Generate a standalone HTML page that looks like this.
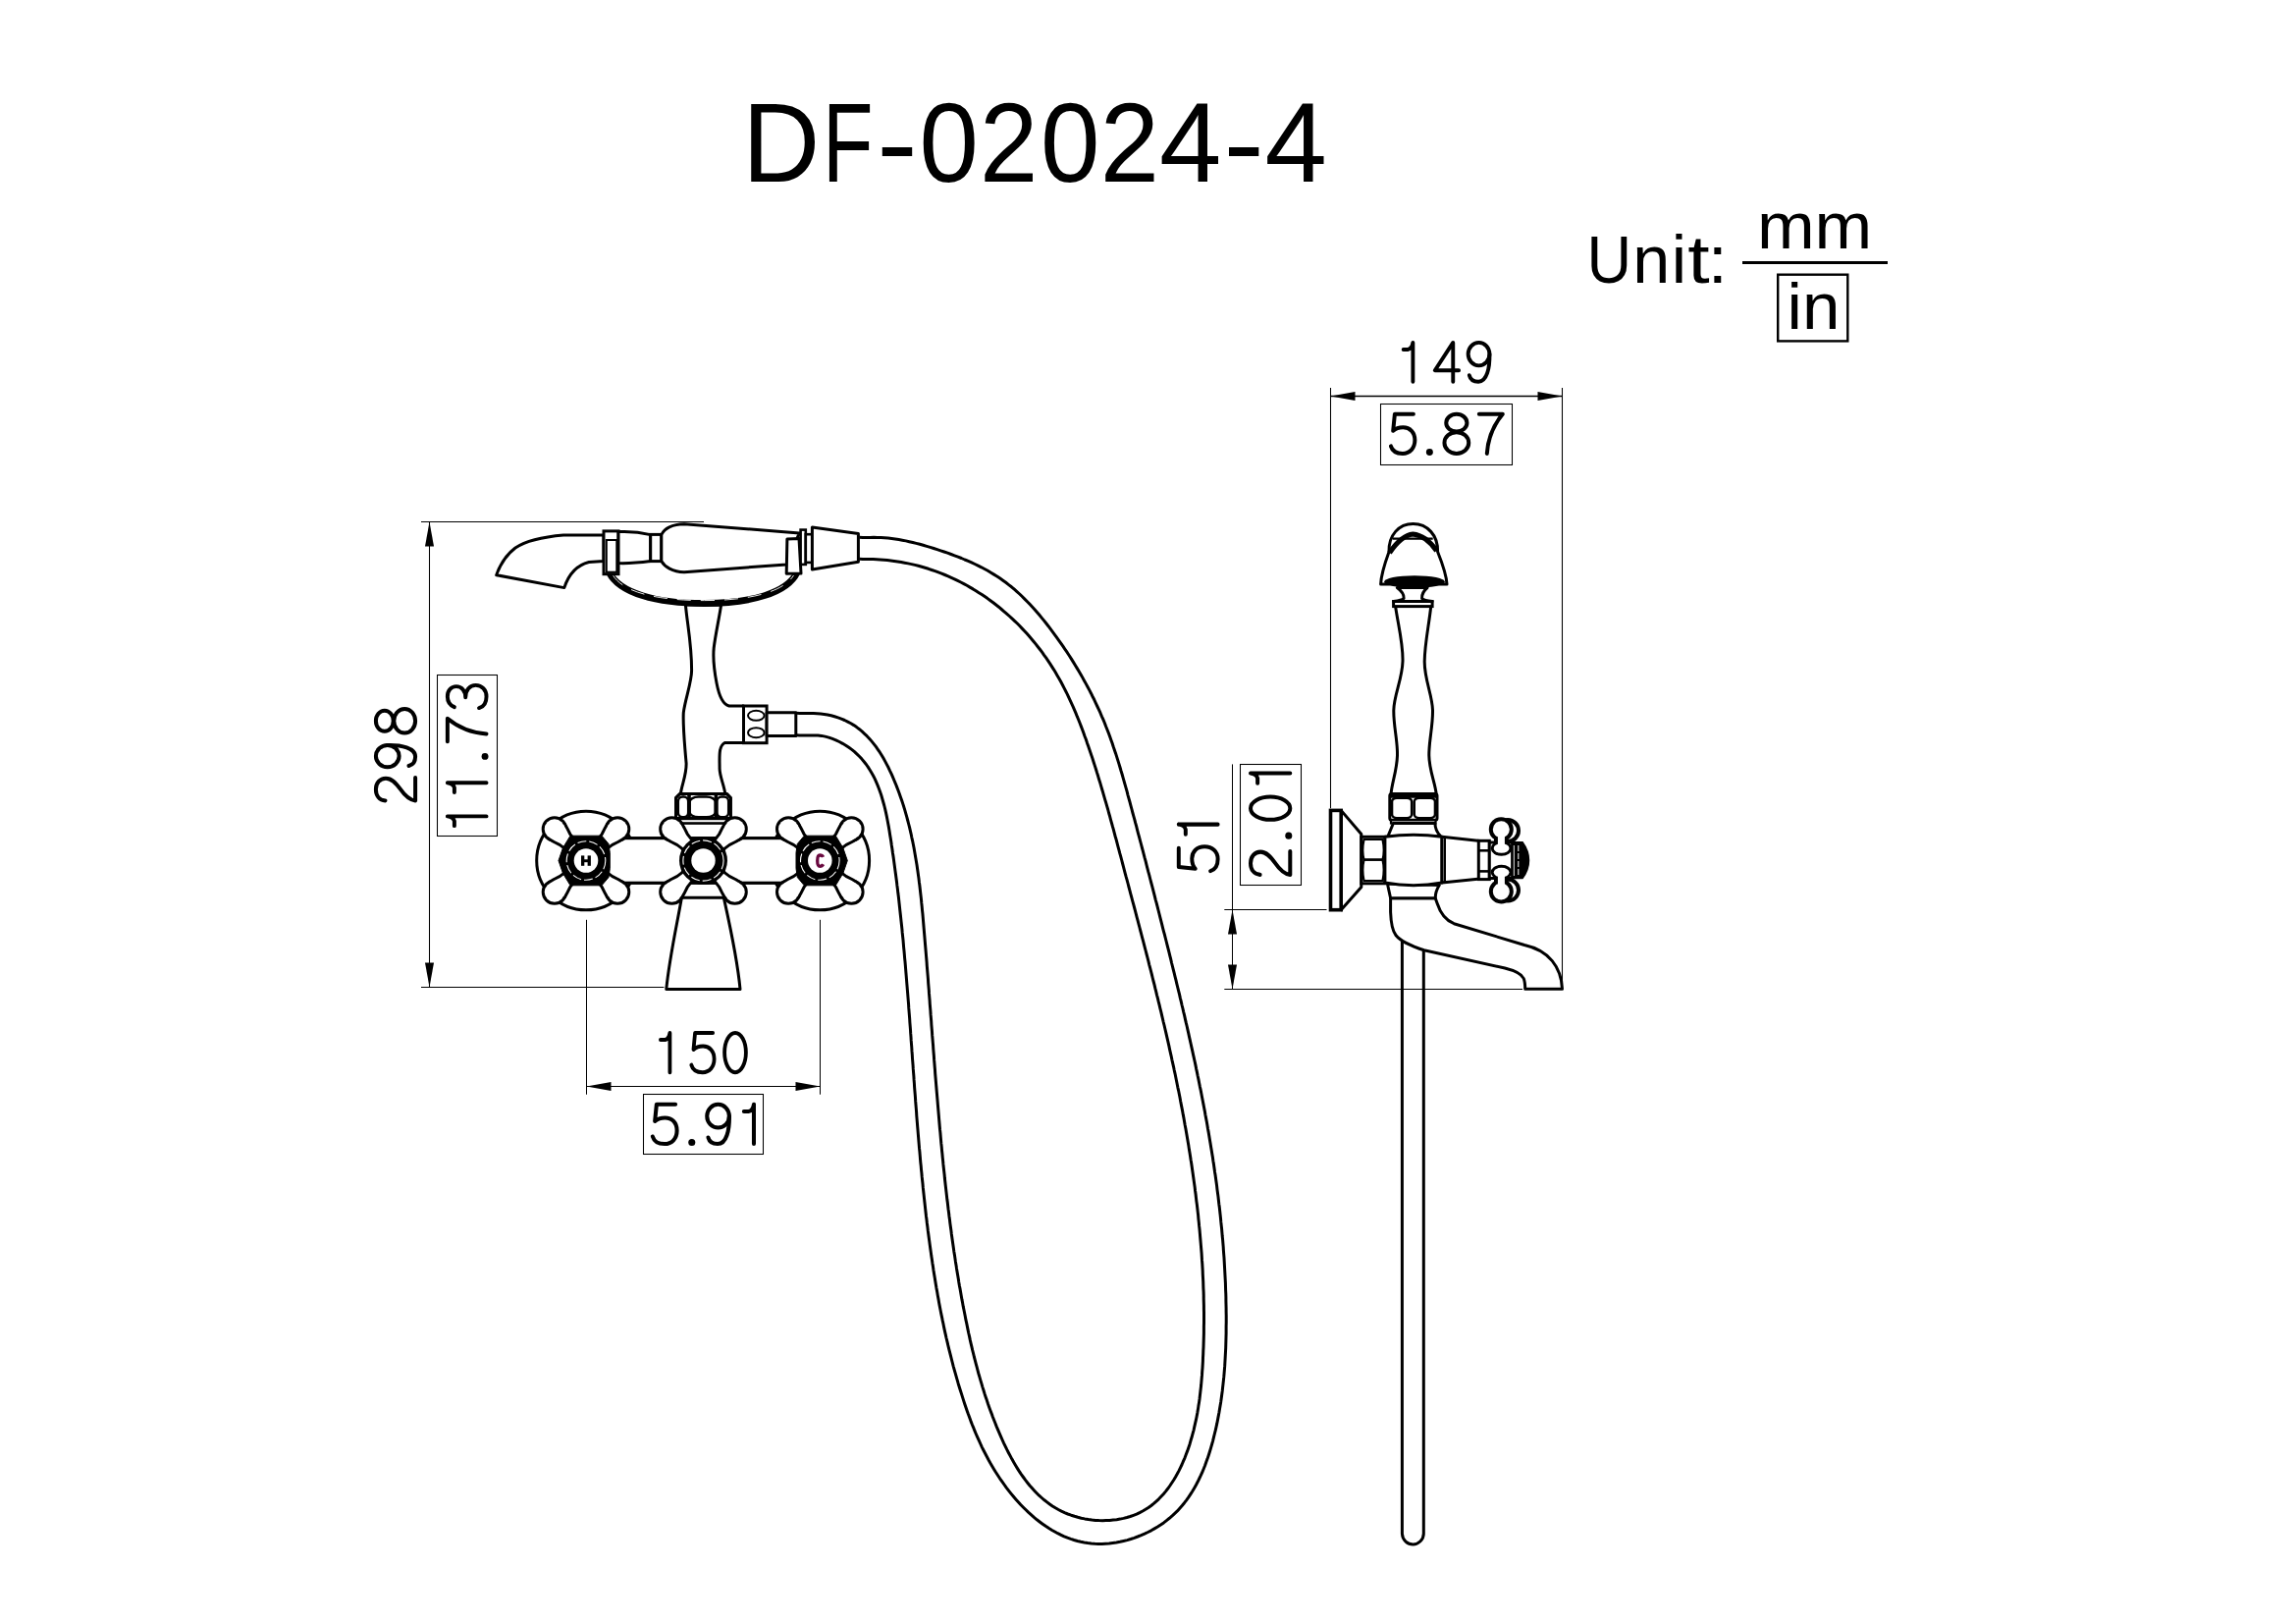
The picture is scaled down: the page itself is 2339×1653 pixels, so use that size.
<!DOCTYPE html>
<html><head><meta charset="utf-8"><title>DF-02024-4</title><style>html,body{margin:0;padding:0;background:#fff;width:2339px;height:1653px;overflow:hidden;font-family:"Liberation Sans",sans-serif}</style></head><body>
<svg width="2339" height="1653" viewBox="0 0 2339 1653" style="display:block">
<rect width="2339" height="1653" fill="#fff"/>
<text transform="translate(756.13,184.8) scale(0.9530,1)" font-family="Liberation Sans, sans-serif" font-size="114.8" fill="#000">D</text>
<text transform="translate(837.89,184.8) scale(0.7343,1)" font-family="Liberation Sans, sans-serif" font-size="114.8" fill="#000">F</text>
<text transform="translate(893.27,184.8) scale(1.0847,1)" font-family="Liberation Sans, sans-serif" font-size="114.8" fill="#000">&#45;</text>
<text transform="translate(936.46,184.8) scale(0.9457,1)" font-family="Liberation Sans, sans-serif" font-size="114.8" fill="#000">0</text>
<text transform="translate(998.03,184.8) scale(0.9293,1)" font-family="Liberation Sans, sans-serif" font-size="114.8" fill="#000">2</text>
<text transform="translate(1059.95,184.8) scale(0.9476,1)" font-family="Liberation Sans, sans-serif" font-size="114.8" fill="#000">0</text>
<text transform="translate(1120.86,184.8) scale(0.9427,1)" font-family="Liberation Sans, sans-serif" font-size="114.8" fill="#000">2</text>
<text transform="translate(1181.09,184.8) scale(0.9922,1)" font-family="Liberation Sans, sans-serif" font-size="114.8" fill="#000">4</text>
<text transform="translate(1246.39,184.8) scale(1.0811,1)" font-family="Liberation Sans, sans-serif" font-size="114.8" fill="#000">&#45;</text>
<text transform="translate(1288.39,184.8) scale(0.9922,1)" font-family="Liberation Sans, sans-serif" font-size="114.8" fill="#000">4</text>
<text transform="translate(1616.42,288) scale(0.9162,1)" font-family="Liberation Sans, sans-serif" font-size="69" fill="#000">U</text>
<text transform="translate(1663.27,288) scale(0.9894,1)" font-family="Liberation Sans, sans-serif" font-size="69" fill="#000">n</text>
<text transform="translate(1702.86,288) scale(1.0059,1)" font-family="Liberation Sans, sans-serif" font-size="69" fill="#000">i</text>
<text transform="translate(1719.18,288) scale(1.1691,1)" font-family="Liberation Sans, sans-serif" font-size="69" fill="#000">t</text>
<text transform="translate(1739.68,288) scale(1.0503,1)" font-family="Liberation Sans, sans-serif" font-size="69" fill="#000">:</text>
<text x="1789.9" y="253" font-family="Liberation Sans, sans-serif" font-size="67" textLength="117.4" lengthAdjust="spacingAndGlyphs" fill="#000">mm</text>
<line x1="1775" y1="267.5" x2="1923" y2="267.5" stroke="#000" stroke-width="3.2"/>
<rect x="1811.2" y="279.7" width="71.1" height="67.7" rx="0" fill="none" stroke="#000" stroke-width="2.4"/>
<text x="1820.6" y="335" font-family="Liberation Sans, sans-serif" font-size="67" textLength="53.8" lengthAdjust="spacingAndGlyphs" fill="#000">in</text>
<line x1="429" y1="531.5" x2="717" y2="531.5" stroke="#000" stroke-width="1.05"/>
<line x1="429" y1="1005.5" x2="676.4" y2="1005.5" stroke="#000" stroke-width="1.05"/>
<line x1="437.5" y1="531.5" x2="437.5" y2="1005.5" stroke="#000" stroke-width="1.05"/>
<path d="M 437.5,531.5 L 442,556.5 L 433,556.5 Z" fill="#000"/>
<path d="M 437.5,1005.5 L 433,980.5 L 442,980.5 Z" fill="#000"/>
<g transform="translate(381,821.38) rotate(-90) scale(0.9959,1.0000)" fill="none" stroke="#000" stroke-width="4" stroke-linecap="round" stroke-linejoin="round"><g transform="translate(0,0)"><path d="M 6,11.5 C 6.5,5.5 11,1.9 17.5,1.9 C 24,1.9 28.8,6 28.8,12 C 28.8,18 24.5,22 17.5,27 C 11,31.5 6.5,37 5.8,42.1 L 29.5,42.1"/></g><g transform="translate(35,0)"><ellipse cx="16.5" cy="13.75" rx="11.2" ry="11.85"/><path d="M 27.7,13.75 C 28,28 25,42.1 16,42.1 C 11,42.1 7.5,39.5 6.5,35.5"/></g><g transform="translate(70,0)"><ellipse cx="17.5" cy="10.8" rx="10.6" ry="8.9"/><ellipse cx="17.5" cy="31.2" rx="12.4" ry="10.9"/></g></g>
<rect x="445.5" y="687.5" width="61" height="164" rx="0" fill="none" stroke="#000" stroke-width="1.05"/>
<g transform="translate(454,848.47) rotate(-90) scale(0.9761,0.9864)" fill="none" stroke="#000" stroke-width="4" stroke-linecap="round" stroke-linejoin="round"><g transform="translate(0,0)"><path d="M 17.5,42.1 L 17.5,1.9 M 7.5,9 L 12.5,9 Q 16.5,8 17.5,1.9"/></g><g transform="translate(35,0)"><path d="M 17.5,42.1 L 17.5,1.9 M 7.5,9 L 12.5,9 Q 16.5,8 17.5,1.9"/></g><g transform="translate(70,0)"><circle cx="10" cy="40.6" r="3.5" fill="#000" stroke="none"/></g><g transform="translate(90,0)"><path d="M 5.5,1.9 L 29.5,1.9 C 21,12 14.5,26 13.5,42.1"/></g><g transform="translate(125,0)"><path d="M 6.5,9 C 8.5,4.5 12.5,1.9 17.5,1.9 C 23.5,1.9 28,5.5 28,11 C 28,16.5 23.5,20.5 16.5,20.5 C 24.5,20.5 29.3,25 29.3,31 C 29.3,37.5 24.5,42.1 17.5,42.1 C 11.5,42.1 7,39.5 5.5,34.5"/></g></g>
<line x1="597.5" y1="936.8" x2="597.5" y2="1114.7" stroke="#000" stroke-width="1.05"/>
<line x1="835.5" y1="936.8" x2="835.5" y2="1114.7" stroke="#000" stroke-width="1.05"/>
<line x1="597.5" y1="1106.5" x2="835.5" y2="1106.5" stroke="#000" stroke-width="1.05"/>
<path d="M 597.5,1106.5 L 622.5,1102 L 622.5,1111 Z" fill="#000"/>
<path d="M 835.5,1106.5 L 810.5,1111 L 810.5,1102 Z" fill="#000"/>
<g transform="translate(665.77,1050) scale(0.9512,1.0023)" fill="none" stroke="#000" stroke-width="4" stroke-linecap="round" stroke-linejoin="round"><g transform="translate(0,0)"><path d="M 17.5,42.1 L 17.5,1.9 M 7.5,9 L 12.5,9 Q 16.5,8 17.5,1.9"/></g><g transform="translate(35,0)"><path d="M 28.5,1.9 L 9.5,1.9 L 7.8,19 C 10.5,16.5 14,15.5 18,15.5 C 25,15.5 30,20.5 30,28.5 C 30,36.5 25,42.1 17.5,42.1 C 11.5,42.1 7,39.5 5.5,34.5"/></g><g transform="translate(70,0)"><ellipse cx="17.5" cy="22" rx="11.45" ry="20.1"/></g></g>
<rect x="655.5" y="1114.5" width="122" height="61" rx="0" fill="none" stroke="#000" stroke-width="1.05"/>
<g transform="translate(659.26,1122.9) scale(1.0113,1.0023)" fill="none" stroke="#000" stroke-width="4" stroke-linecap="round" stroke-linejoin="round"><g transform="translate(0,0)"><path d="M 28.5,1.9 L 9.5,1.9 L 7.8,19 C 10.5,16.5 14,15.5 18,15.5 C 25,15.5 30,20.5 30,28.5 C 30,36.5 25,42.1 17.5,42.1 C 11.5,42.1 7,39.5 5.5,34.5"/></g><g transform="translate(35,0)"><circle cx="10" cy="40.6" r="3.5" fill="#000" stroke="none"/></g><g transform="translate(55,0)"><ellipse cx="16.5" cy="13.75" rx="11.2" ry="11.85"/><path d="M 27.7,13.75 C 28,28 25,42.1 16,42.1 C 11,42.1 7.5,39.5 6.5,35.5"/></g><g transform="translate(90,0)"><path d="M 17.5,42.1 L 17.5,1.9 M 7.5,9 L 12.5,9 Q 16.5,8 17.5,1.9"/></g></g>
<line x1="1355.5" y1="395" x2="1355.5" y2="823.3" stroke="#000" stroke-width="1.05"/>
<line x1="1591.5" y1="395" x2="1591.5" y2="1006.8" stroke="#000" stroke-width="1.05"/>
<line x1="1355.5" y1="403.5" x2="1591.5" y2="403.5" stroke="#000" stroke-width="1.6"/>
<path d="M 1355.5,403.5 L 1380.5,399 L 1380.5,408 Z" fill="#000"/>
<path d="M 1591.5,403.5 L 1566.5,408 L 1566.5,399 Z" fill="#000"/>
<g transform="translate(1422.35,347) scale(0.9734,0.9909)" fill="none" stroke="#000" stroke-width="4" stroke-linecap="round" stroke-linejoin="round"><g transform="translate(0,0)"><path d="M 17.5,42.1 L 17.5,1.9 M 7.5,9 L 12.5,9 Q 16.5,8 17.5,1.9"/></g><g transform="translate(35,0)"><path d="M 24.5,42.1 L 24.5,1.9 L 5.5,30.5 L 30.5,30.5"/></g><g transform="translate(70,0)"><ellipse cx="16.5" cy="13.75" rx="11.2" ry="11.85"/><path d="M 27.7,13.75 C 28,28 25,42.1 16,42.1 C 11,42.1 7.5,39.5 6.5,35.5"/></g></g>
<rect x="1406.5" y="411.5" width="134" height="62" rx="0" fill="none" stroke="#000" stroke-width="1.05"/>
<g transform="translate(1411.4,419.9) scale(0.9992,0.9977)" fill="none" stroke="#000" stroke-width="4" stroke-linecap="round" stroke-linejoin="round"><g transform="translate(0,0)"><path d="M 28.5,1.9 L 9.5,1.9 L 7.8,19 C 10.5,16.5 14,15.5 18,15.5 C 25,15.5 30,20.5 30,28.5 C 30,36.5 25,42.1 17.5,42.1 C 11.5,42.1 7,39.5 5.5,34.5"/></g><g transform="translate(35,0)"><circle cx="10" cy="40.6" r="3.5" fill="#000" stroke="none"/></g><g transform="translate(55,0)"><ellipse cx="17.5" cy="10.8" rx="10.6" ry="8.9"/><ellipse cx="17.5" cy="31.2" rx="12.4" ry="10.9"/></g><g transform="translate(90,0)"><path d="M 5.5,1.9 L 29.5,1.9 C 21,12 14.5,26 13.5,42.1"/></g></g>
<line x1="1247.3" y1="926.5" x2="1351.5" y2="926.5" stroke="#000" stroke-width="1.05"/>
<line x1="1247.3" y1="1007.5" x2="1551" y2="1007.5" stroke="#000" stroke-width="1.05"/>
<line x1="1255.5" y1="778.4" x2="1255.5" y2="1007.5" stroke="#000" stroke-width="1.05"/>
<path d="M 1255.5,926.5 L 1260,951.5 L 1251,951.5 Z" fill="#000"/>
<path d="M 1255.5,1007.5 L 1251,982.5 L 1260,982.5 Z" fill="#000"/>
<g transform="translate(1198.9,892.64) rotate(-90) scale(1.0098,0.9909)" fill="none" stroke="#000" stroke-width="4" stroke-linecap="round" stroke-linejoin="round"><g transform="translate(0,0)"><path d="M 28.5,1.9 L 9.5,1.9 L 7.8,19 C 10.5,16.5 14,15.5 18,15.5 C 25,15.5 30,20.5 30,28.5 C 30,36.5 25,42.1 17.5,42.1 C 11.5,42.1 7,39.5 5.5,34.5"/></g><g transform="translate(35,0)"><path d="M 17.5,42.1 L 17.5,1.9 M 7.5,9 L 12.5,9 Q 16.5,8 17.5,1.9"/></g></g>
<rect x="1263.5" y="778.5" width="62" height="123" rx="0" fill="none" stroke="#000" stroke-width="1.05"/>
<g transform="translate(1272.1,896.97) rotate(-90) scale(1.0180,1.0023)" fill="none" stroke="#000" stroke-width="4" stroke-linecap="round" stroke-linejoin="round"><g transform="translate(0,0)"><path d="M 6,11.5 C 6.5,5.5 11,1.9 17.5,1.9 C 24,1.9 28.8,6 28.8,12 C 28.8,18 24.5,22 17.5,27 C 11,31.5 6.5,37 5.8,42.1 L 29.5,42.1"/></g><g transform="translate(35,0)"><circle cx="10" cy="40.6" r="3.5" fill="#000" stroke="none"/></g><g transform="translate(55,0)"><ellipse cx="17.5" cy="22" rx="11.45" ry="20.1"/></g><g transform="translate(90,0)"><path d="M 17.5,42.1 L 17.5,1.9 M 7.5,9 L 12.5,9 Q 16.5,8 17.5,1.9"/></g></g>
<path d="M 811.1,726.3 L 814.7,726.4 L 818.2,726.4 L 821.8,726.4 L 825.3,726.4 L 828.9,726.5 L 832.4,726.7 L 836.0,727.0 L 839.6,727.4 L 843.1,728.0 L 846.7,728.8 L 850.2,729.8 L 853.7,730.9 L 857.1,732.1 L 860.4,733.5 L 863.6,735.1 L 866.8,736.8 L 869.8,738.6 L 872.7,740.6 L 875.5,742.7 L 878.1,744.9 L 880.7,747.3 L 883.2,749.7 L 885.6,752.2 L 887.9,754.9 L 890.1,757.6 L 892.3,760.4 L 894.3,763.3 L 896.3,766.2 L 898.2,769.2 L 900.0,772.3 L 901.7,775.4 L 903.4,778.6 L 905.1,781.8 L 906.6,785.1 L 908.2,788.4 L 909.6,791.6 L 911.0,795.0 L 912.4,798.3 L 913.7,801.6 L 915.0,805.0 L 916.2,808.3 L 917.4,811.7 L 918.6,815.1 L 919.7,818.4 L 920.8,821.8 L 921.8,825.2 L 922.8,828.7 L 923.8,832.1 L 924.7,835.5 L 925.6,839.0 L 926.5,842.4 L 927.3,845.9 L 928.1,849.3 L 928.8,852.8 L 929.6,856.3 L 930.3,859.8 L 931.0,863.2 L 931.6,866.7 L 932.2,870.2 L 932.8,873.8 L 933.4,877.3 L 934.0,880.8 L 934.5,884.3 L 935.0,887.8 L 935.5,891.4 L 936.0,894.9 L 936.4,898.4 L 936.9,902.0 L 937.3,905.5 L 937.7,909.1 L 938.1,912.6 L 938.5,916.2 L 938.8,919.7 L 939.2,923.3 L 939.5,926.8 L 939.9,930.4 L 940.2,933.9 L 940.5,937.5 L 940.8,941.0 L 941.1,944.6 L 941.4,948.1 L 941.7,951.7 L 942.0,955.2 L 942.3,958.8 L 942.6,962.3 L 942.9,965.9 L 943.2,969.4 L 943.5,973.0 L 943.8,976.5 L 944.1,980.1 L 944.3,983.6 L 944.6,987.2 L 944.9,990.7 L 945.2,994.2 L 945.5,997.8 L 945.7,1001.3 L 946.0,1004.9 L 946.3,1008.4 L 946.5,1011.9 L 946.8,1015.5 L 947.1,1019.0 L 947.3,1022.6 L 947.6,1026.1 L 947.9,1029.6 L 948.1,1033.2 L 948.4,1036.7 L 948.7,1040.2 L 948.9,1043.8 L 949.2,1047.3 L 949.5,1050.9 L 949.7,1054.4 L 950.0,1057.9 L 950.3,1061.5 L 950.6,1065.0 L 950.8,1068.5 L 951.1,1072.1 L 951.4,1075.6 L 951.6,1079.2 L 951.9,1082.7 L 952.2,1086.3 L 952.5,1089.8 L 952.7,1093.3 L 953.0,1096.9 L 953.3,1100.4 L 953.6,1104.0 L 953.9,1107.5 L 954.2,1111.1 L 954.5,1114.6 L 954.8,1118.2 L 955.1,1121.7 L 955.4,1125.3 L 955.7,1128.8 L 956.0,1132.4 L 956.3,1135.9 L 956.6,1139.5 L 956.9,1143.0 L 957.2,1146.6 L 957.5,1150.2 L 957.9,1153.7 L 958.2,1157.3 L 958.5,1160.8 L 958.8,1164.4 L 959.2,1167.9 L 959.5,1171.5 L 959.9,1175.1 L 960.2,1178.6 L 960.6,1182.2 L 960.9,1185.7 L 961.3,1189.3 L 961.7,1192.9 L 962.1,1196.4 L 962.4,1200.0 L 962.8,1203.5 L 963.2,1207.1 L 963.6,1210.6 L 964.0,1214.2 L 964.4,1217.7 L 964.8,1221.3 L 965.3,1224.8 L 965.7,1228.4 L 966.1,1231.9 L 966.6,1235.5 L 967.0,1239.0 L 967.5,1242.6 L 967.9,1246.1 L 968.4,1249.7 L 968.9,1253.2 L 969.3,1256.7 L 969.8,1260.3 L 970.3,1263.8 L 970.8,1267.3 L 971.3,1270.8 L 971.8,1274.4 L 972.4,1277.9 L 972.9,1281.4 L 973.4,1284.9 L 974.0,1288.4 L 974.5,1291.9 L 975.1,1295.5 L 975.7,1299.0 L 976.3,1302.5 L 976.8,1306.0 L 977.4,1309.5 L 978.1,1312.9 L 978.7,1316.4 L 979.3,1319.9 L 979.9,1323.4 L 980.6,1326.9 L 981.2,1330.4 L 981.9,1333.8 L 982.6,1337.3 L 983.3,1340.8 L 983.9,1344.2 L 984.7,1347.7 L 985.4,1351.1 L 986.1,1354.6 L 986.8,1358.0 L 987.6,1361.4 L 988.3,1364.9 L 989.1,1368.3 L 989.9,1371.7 L 990.7,1375.2 L 991.6,1378.6 L 992.4,1382.0 L 993.3,1385.4 L 994.2,1388.8 L 995.1,1392.2 L 996.0,1395.6 L 996.9,1399.0 L 997.9,1402.4 L 998.9,1405.8 L 999.9,1409.2 L 1000.9,1412.6 L 1002.0,1416.0 L 1003.0,1419.4 L 1004.1,1422.7 L 1005.3,1426.1 L 1006.4,1429.5 L 1007.6,1432.9 L 1008.8,1436.2 L 1010.1,1439.6 L 1011.3,1443.0 L 1012.6,1446.3 L 1014.0,1449.7 L 1015.3,1453.1 L 1016.7,1456.4 L 1018.2,1459.8 L 1019.6,1463.1 L 1021.1,1466.5 L 1022.6,1469.8 L 1024.2,1473.1 L 1025.8,1476.4 L 1027.5,1479.7 L 1029.2,1482.9 L 1030.9,1486.1 L 1032.7,1489.3 L 1034.6,1492.5 L 1036.5,1495.6 L 1038.4,1498.6 L 1040.4,1501.6 L 1042.5,1504.5 L 1044.6,1507.4 L 1046.8,1510.2 L 1049.0,1513.0 L 1051.3,1515.6 L 1053.7,1518.2 L 1056.1,1520.7 L 1058.6,1523.2 L 1061.2,1525.5 L 1063.9,1527.8 L 1066.6,1529.9 L 1069.4,1532.0 L 1072.2,1533.9 L 1075.2,1535.8 L 1078.2,1537.5 L 1081.3,1539.1 L 1084.5,1540.6 L 1087.8,1542.0 L 1091.2,1543.2 L 1094.6,1544.3 L 1098.0,1545.3 L 1101.5,1546.2 L 1105.1,1546.9 L 1108.7,1547.5 L 1112.3,1548.0 L 1115.9,1548.4 L 1119.5,1548.6 L 1123.2,1548.7 L 1126.8,1548.6 L 1130.4,1548.5 L 1134.0,1548.1 L 1137.6,1547.7 L 1141.1,1547.1 L 1144.6,1546.4 L 1148.0,1545.5 L 1151.4,1544.5 L 1154.7,1543.3 L 1157.9,1542.1 L 1161.0,1540.6 L 1164.1,1539.0 L 1167.0,1537.3 L 1169.9,1535.5 L 1172.7,1533.5 L 1175.3,1531.4 L 1177.9,1529.1 L 1180.4,1526.8 L 1182.8,1524.3 L 1185.2,1521.7 L 1187.4,1519.1 L 1189.6,1516.3 L 1191.6,1513.5 L 1193.6,1510.5 L 1195.6,1507.5 L 1197.4,1504.5 L 1199.2,1501.3 L 1200.9,1498.1 L 1202.5,1494.8 L 1204.1,1491.5 L 1205.5,1488.2 L 1207.0,1484.8 L 1208.3,1481.3 L 1209.6,1477.9 L 1210.8,1474.4 L 1212.0,1470.9 L 1213.0,1467.3 L 1214.1,1463.8 L 1215.0,1460.3 L 1216.0,1456.8 L 1216.8,1453.2 L 1217.6,1449.7 L 1218.4,1446.2 L 1219.1,1442.7 L 1219.8,1439.1 L 1220.4,1435.6 L 1220.9,1432.1 L 1221.5,1428.6 L 1222.0,1425.0 L 1222.4,1421.5 L 1222.8,1418.0 L 1223.2,1414.5 L 1223.6,1411.0 L 1223.9,1407.4 L 1224.2,1403.9 L 1224.5,1400.4 L 1224.7,1396.9 L 1225.0,1393.3 L 1225.2,1389.8 L 1225.4,1386.3 L 1225.5,1382.8 L 1225.7,1379.2 L 1225.8,1375.7 L 1226.0,1372.2 L 1226.1,1368.6 L 1226.2,1365.1 L 1226.3,1361.6 L 1226.4,1358.0 L 1226.4,1354.5 L 1226.4,1351.0 L 1226.5,1347.4 L 1226.5,1343.9 L 1226.5,1340.4 L 1226.5,1336.8 L 1226.4,1333.3 L 1226.4,1329.8 L 1226.3,1326.2 L 1226.2,1322.7 L 1226.2,1319.1 L 1226.1,1315.6 L 1225.9,1312.1 L 1225.8,1308.5 L 1225.7,1305.0 L 1225.5,1301.4 L 1225.3,1297.9 L 1225.2,1294.4 L 1225.0,1290.8 L 1224.8,1287.3 L 1224.5,1283.7 L 1224.3,1280.2 L 1224.1,1276.7 L 1223.8,1273.1 L 1223.5,1269.6 L 1223.2,1266.0 L 1222.9,1262.5 L 1222.6,1259.0 L 1222.3,1255.4 L 1222.0,1251.9 L 1221.6,1248.4 L 1221.3,1244.8 L 1220.9,1241.3 L 1220.6,1237.7 L 1220.2,1234.2 L 1219.8,1230.7 L 1219.4,1227.1 L 1218.9,1223.6 L 1218.5,1220.1 L 1218.1,1216.5 L 1217.6,1213.0 L 1217.2,1209.4 L 1216.7,1205.9 L 1216.2,1202.4 L 1215.7,1198.8 L 1215.2,1195.3 L 1214.7,1191.8 L 1214.2,1188.3 L 1213.7,1184.7 L 1213.1,1181.2 L 1212.6,1177.7 L 1212.0,1174.1 L 1211.4,1170.6 L 1210.9,1167.1 L 1210.3,1163.6 L 1209.7,1160.0 L 1209.1,1156.5 L 1208.5,1153.0 L 1207.9,1149.5 L 1207.2,1146.0 L 1206.6,1142.4 L 1206.0,1138.9 L 1205.3,1135.4 L 1204.7,1131.9 L 1204.0,1128.4 L 1203.3,1124.9 L 1202.6,1121.3 L 1202.0,1117.8 L 1201.3,1114.3 L 1200.6,1110.8 L 1199.8,1107.3 L 1199.1,1103.8 L 1198.4,1100.3 L 1197.7,1096.8 L 1197.0,1093.3 L 1196.2,1089.8 L 1195.5,1086.3 L 1194.7,1082.8 L 1193.9,1079.3 L 1193.2,1075.8 L 1192.4,1072.3 L 1191.6,1068.8 L 1190.9,1065.4 L 1190.1,1061.9 L 1189.3,1058.4 L 1188.5,1054.9 L 1187.7,1051.4 L 1186.9,1048.0 L 1186.1,1044.5 L 1185.2,1041.0 L 1184.4,1037.5 L 1183.6,1034.1 L 1182.8,1030.6 L 1181.9,1027.1 L 1181.1,1023.7 L 1180.2,1020.2 L 1179.4,1016.7 L 1178.5,1013.3 L 1177.7,1009.8 L 1176.8,1006.4 L 1176.0,1002.9 L 1175.1,999.5 L 1174.2,996.0 L 1173.4,992.6 L 1172.5,989.1 L 1171.6,985.7 L 1170.7,982.3 L 1169.9,978.8 L 1169.0,975.4 L 1168.1,972.0 L 1167.2,968.5 L 1166.3,965.1 L 1165.4,961.7 L 1164.5,958.2 L 1163.6,954.8 L 1162.7,951.4 L 1161.8,948.0 L 1160.9,944.5 L 1160.0,941.1 L 1159.1,937.7 L 1158.2,934.3 L 1157.3,930.8 L 1156.4,927.4 L 1155.5,924.0 L 1154.6,920.6 L 1153.6,917.1 L 1152.7,913.7 L 1151.8,910.3 L 1150.9,906.9 L 1150.0,903.5 L 1149.1,900.0 L 1148.2,896.6 L 1147.2,893.2 L 1146.3,889.8 L 1145.4,886.3 L 1144.5,882.9 L 1143.6,879.5 L 1142.7,876.0 L 1141.8,872.6 L 1140.8,869.2 L 1139.9,865.7 L 1139.0,862.3 L 1138.1,858.9 L 1137.2,855.4 L 1136.2,852.0 L 1135.3,848.6 L 1134.4,845.1 L 1133.4,841.7 L 1132.5,838.3 L 1131.5,834.8 L 1130.6,831.4 L 1129.6,828.0 L 1128.7,824.5 L 1127.7,821.1 L 1126.7,817.7 L 1125.7,814.3 L 1124.7,810.8 L 1123.7,807.4 L 1122.7,804.0 L 1121.7,800.6 L 1120.7,797.2 L 1119.6,793.7 L 1118.6,790.3 L 1117.5,786.9 L 1116.5,783.5 L 1115.4,780.1 L 1114.3,776.7 L 1113.2,773.3 L 1112.1,769.9 L 1110.9,766.5 L 1109.8,763.2 L 1108.6,759.8 L 1107.4,756.4 L 1106.3,753.0 L 1105.0,749.7 L 1103.8,746.3 L 1102.6,743.0 L 1101.3,739.6 L 1100.0,736.3 L 1098.7,733.0 L 1097.3,729.7 L 1096.0,726.4 L 1094.6,723.1 L 1093.2,719.8 L 1091.7,716.6 L 1090.2,713.4 L 1088.7,710.1 L 1087.2,706.9 L 1085.6,703.8 L 1084.0,700.6 L 1082.4,697.5 L 1080.7,694.3 L 1079.0,691.2 L 1077.2,688.2 L 1075.4,685.1 L 1073.6,682.1 L 1071.7,679.1 L 1069.8,676.1 L 1067.8,673.1 L 1065.8,670.2 L 1063.7,667.3 L 1061.7,664.4 L 1059.5,661.5 L 1057.3,658.7 L 1055.1,655.9 L 1052.9,653.2 L 1050.6,650.5 L 1048.3,647.8 L 1045.9,645.1 L 1043.5,642.5 L 1041.0,639.9 L 1038.6,637.3 L 1036.1,634.8 L 1033.5,632.3 L 1030.9,629.9 L 1028.3,627.5 L 1025.6,625.1 L 1022.9,622.8 L 1020.2,620.5 L 1017.5,618.2 L 1014.7,616.0 L 1011.8,613.8 L 1009.0,611.7 L 1006.1,609.6 L 1003.2,607.6 L 1000.2,605.6 L 997.2,603.7 L 994.2,601.8 L 991.2,599.9 L 988.1,598.1 L 985.0,596.3 L 981.9,594.6 L 978.8,593.0 L 975.6,591.4 L 972.4,589.8 L 969.1,588.3 L 965.9,586.9 L 962.6,585.5 L 959.3,584.1 L 956.0,582.9 L 952.6,581.6 L 949.2,580.5 L 945.8,579.3 L 942.4,578.3 L 939.0,577.3 L 935.5,576.3 L 932.0,575.4 L 928.6,574.6 L 925.1,573.9 L 921.5,573.2 L 918.0,572.5 L 914.5,571.9 L 910.9,571.4 L 907.4,570.9 L 903.9,570.5 L 900.3,570.2 L 896.7,569.9 L 893.2,569.7 L 889.6,569.6 L 886.1,569.5 L 882.5,569.4 L 879.0,569.4 L 875.4,569.3" fill="none" stroke="#000" stroke-width="3" stroke-linejoin="round"/>
<path d="M 811.1,748.8 L 814.8,749.0 L 818.5,749.0 L 822.1,748.9 L 825.8,748.9 L 829.5,748.9 L 833.2,749.0 L 836.9,749.4 L 840.6,750.1 L 844.3,751.1 L 848.0,752.4 L 851.6,753.8 L 855.1,755.5 L 858.5,757.3 L 861.7,759.2 L 864.8,761.3 L 867.7,763.4 L 870.5,765.7 L 873.1,768.1 L 875.6,770.5 L 878.0,773.1 L 880.2,775.8 L 882.4,778.5 L 884.4,781.4 L 886.2,784.3 L 888.0,787.3 L 889.7,790.3 L 891.3,793.4 L 892.7,796.6 L 894.1,799.9 L 895.4,803.2 L 896.6,806.6 L 897.8,810.0 L 898.8,813.5 L 899.8,817.0 L 900.8,820.5 L 901.7,824.1 L 902.5,827.7 L 903.3,831.4 L 904.0,835.0 L 904.7,838.7 L 905.4,842.4 L 906.0,846.1 L 906.6,849.9 L 907.2,853.6 L 907.8,857.3 L 908.3,861.0 L 908.9,864.8 L 909.4,868.5 L 910.0,872.2 L 910.5,875.9 L 911.0,879.6 L 911.5,883.4 L 912.0,887.1 L 912.5,890.8 L 913.0,894.5 L 913.5,898.2 L 913.9,901.9 L 914.4,905.6 L 914.8,909.3 L 915.3,913.0 L 915.7,916.7 L 916.1,920.4 L 916.5,924.1 L 916.9,927.8 L 917.3,931.5 L 917.7,935.1 L 918.1,938.8 L 918.5,942.5 L 918.9,946.2 L 919.2,949.9 L 919.6,953.6 L 920.0,957.2 L 920.3,960.9 L 920.6,964.6 L 921.0,968.3 L 921.3,971.9 L 921.6,975.6 L 922.0,979.3 L 922.3,982.9 L 922.6,986.6 L 922.9,990.3 L 923.2,993.9 L 923.5,997.6 L 923.8,1001.3 L 924.1,1004.9 L 924.4,1008.6 L 924.7,1012.2 L 925.0,1015.9 L 925.3,1019.6 L 925.6,1023.2 L 925.8,1026.9 L 926.1,1030.5 L 926.4,1034.2 L 926.7,1037.8 L 926.9,1041.5 L 927.2,1045.1 L 927.5,1048.8 L 927.7,1052.4 L 928.0,1056.1 L 928.2,1059.7 L 928.5,1063.4 L 928.8,1067.0 L 929.0,1070.7 L 929.3,1074.3 L 929.5,1078.0 L 929.8,1081.6 L 930.1,1085.3 L 930.3,1088.9 L 930.6,1092.6 L 930.9,1096.2 L 931.1,1099.9 L 931.4,1103.5 L 931.6,1107.1 L 931.9,1110.8 L 932.2,1114.4 L 932.5,1118.1 L 932.7,1121.7 L 933.0,1125.4 L 933.3,1129.0 L 933.6,1132.7 L 933.8,1136.3 L 934.1,1140.0 L 934.4,1143.6 L 934.7,1147.3 L 935.0,1150.9 L 935.3,1154.6 L 935.6,1158.2 L 935.9,1161.9 L 936.2,1165.5 L 936.5,1169.2 L 936.9,1172.8 L 937.2,1176.5 L 937.5,1180.1 L 937.8,1183.8 L 938.2,1187.4 L 938.5,1191.1 L 938.9,1194.7 L 939.2,1198.4 L 939.6,1202.0 L 940.0,1205.7 L 940.3,1209.4 L 940.7,1213.0 L 941.1,1216.7 L 941.5,1220.3 L 941.9,1224.0 L 942.3,1227.7 L 942.7,1231.3 L 943.1,1235.0 L 943.5,1238.7 L 944.0,1242.3 L 944.4,1246.0 L 944.9,1249.7 L 945.3,1253.4 L 945.8,1257.0 L 946.3,1260.7 L 946.8,1264.4 L 947.3,1268.1 L 947.8,1271.7 L 948.3,1275.4 L 948.8,1279.1 L 949.4,1282.8 L 949.9,1286.4 L 950.5,1290.1 L 951.0,1293.8 L 951.6,1297.4 L 952.2,1301.1 L 952.8,1304.8 L 953.4,1308.4 L 954.0,1312.1 L 954.7,1315.8 L 955.3,1319.4 L 956.0,1323.1 L 956.6,1326.7 L 957.3,1330.4 L 958.0,1334.0 L 958.7,1337.7 L 959.5,1341.3 L 960.2,1344.9 L 961.0,1348.5 L 961.7,1352.2 L 962.5,1355.8 L 963.3,1359.4 L 964.1,1363.0 L 965.0,1366.6 L 965.8,1370.2 L 966.7,1373.8 L 967.6,1377.3 L 968.5,1380.9 L 969.4,1384.5 L 970.3,1388.0 L 971.2,1391.6 L 972.2,1395.1 L 973.2,1398.6 L 974.2,1402.2 L 975.2,1405.7 L 976.2,1409.2 L 977.3,1412.7 L 978.4,1416.2 L 979.5,1419.6 L 980.6,1423.1 L 981.7,1426.6 L 982.8,1430.0 L 984.0,1433.5 L 985.2,1436.9 L 986.4,1440.3 L 987.7,1443.7 L 988.9,1447.1 L 990.2,1450.5 L 991.6,1453.8 L 992.9,1457.2 L 994.3,1460.5 L 995.8,1463.9 L 997.3,1467.2 L 998.8,1470.5 L 1000.3,1473.8 L 1001.9,1477.0 L 1003.6,1480.3 L 1005.3,1483.5 L 1007.0,1486.8 L 1008.8,1490.0 L 1010.7,1493.2 L 1012.6,1496.4 L 1014.5,1499.5 L 1016.6,1502.7 L 1018.6,1505.8 L 1020.8,1508.9 L 1023.0,1512.0 L 1025.2,1515.1 L 1027.5,1518.1 L 1029.9,1521.1 L 1032.3,1524.0 L 1034.8,1526.9 L 1037.3,1529.7 L 1039.8,1532.5 L 1042.5,1535.2 L 1045.1,1537.8 L 1047.8,1540.4 L 1050.6,1542.9 L 1053.4,1545.4 L 1056.3,1547.8 L 1059.2,1550.0 L 1062.2,1552.2 L 1065.2,1554.3 L 1068.2,1556.3 L 1071.3,1558.2 L 1074.5,1560.0 L 1077.6,1561.7 L 1080.9,1563.3 L 1084.1,1564.8 L 1087.4,1566.2 L 1090.8,1567.4 L 1094.2,1568.5 L 1097.6,1569.5 L 1101.0,1570.3 L 1104.5,1571.0 L 1108.1,1571.6 L 1111.7,1572.0 L 1115.3,1572.3 L 1118.9,1572.4 L 1122.6,1572.4 L 1126.2,1572.2 L 1129.9,1572.0 L 1133.6,1571.5 L 1137.3,1571.0 L 1141.0,1570.3 L 1144.6,1569.5 L 1148.3,1568.6 L 1151.9,1567.5 L 1155.5,1566.3 L 1159.0,1565.0 L 1162.5,1563.6 L 1166.0,1562.1 L 1169.4,1560.5 L 1172.8,1558.8 L 1176.1,1556.9 L 1179.3,1555.0 L 1182.4,1553.0 L 1185.5,1550.9 L 1188.4,1548.6 L 1191.3,1546.3 L 1194.1,1543.9 L 1196.8,1541.4 L 1199.4,1538.9 L 1201.8,1536.2 L 1204.2,1533.5 L 1206.5,1530.7 L 1208.7,1527.8 L 1210.8,1524.9 L 1212.8,1521.9 L 1214.8,1518.8 L 1216.6,1515.7 L 1218.4,1512.5 L 1220.1,1509.3 L 1221.7,1506.0 L 1223.3,1502.7 L 1224.8,1499.3 L 1226.2,1496.0 L 1227.6,1492.5 L 1228.8,1489.1 L 1230.1,1485.6 L 1231.3,1482.0 L 1232.4,1478.5 L 1233.5,1474.9 L 1234.5,1471.4 L 1235.5,1467.8 L 1236.4,1464.2 L 1237.3,1460.5 L 1238.2,1456.9 L 1239.0,1453.3 L 1239.8,1449.7 L 1240.5,1446.1 L 1241.2,1442.4 L 1241.9,1438.8 L 1242.5,1435.1 L 1243.1,1431.5 L 1243.7,1427.9 L 1244.2,1424.2 L 1244.7,1420.5 L 1245.2,1416.9 L 1245.6,1413.2 L 1246.0,1409.6 L 1246.4,1405.9 L 1246.8,1402.2 L 1247.1,1398.6 L 1247.4,1394.9 L 1247.7,1391.2 L 1247.9,1387.5 L 1248.1,1383.9 L 1248.3,1380.2 L 1248.5,1376.5 L 1248.7,1372.8 L 1248.8,1369.2 L 1248.9,1365.5 L 1249.0,1361.8 L 1249.1,1358.1 L 1249.1,1354.4 L 1249.1,1350.8 L 1249.2,1347.1 L 1249.2,1343.4 L 1249.2,1339.7 L 1249.1,1336.0 L 1249.1,1332.4 L 1249.0,1328.7 L 1248.9,1325.0 L 1248.9,1321.3 L 1248.8,1317.7 L 1248.6,1314.0 L 1248.5,1310.3 L 1248.4,1306.7 L 1248.2,1303.0 L 1248.0,1299.3 L 1247.8,1295.7 L 1247.6,1292.0 L 1247.4,1288.3 L 1247.2,1284.7 L 1247.0,1281.0 L 1246.7,1277.3 L 1246.4,1273.7 L 1246.2,1270.0 L 1245.9,1266.4 L 1245.6,1262.7 L 1245.2,1259.0 L 1244.9,1255.4 L 1244.6,1251.7 L 1244.2,1248.1 L 1243.8,1244.4 L 1243.5,1240.8 L 1243.1,1237.1 L 1242.7,1233.5 L 1242.3,1229.8 L 1241.8,1226.2 L 1241.4,1222.5 L 1241.0,1218.9 L 1240.5,1215.2 L 1240.0,1211.6 L 1239.6,1207.9 L 1239.1,1204.3 L 1238.6,1200.7 L 1238.1,1197.0 L 1237.5,1193.4 L 1237.0,1189.7 L 1236.5,1186.1 L 1235.9,1182.5 L 1235.4,1178.8 L 1234.8,1175.2 L 1234.2,1171.5 L 1233.6,1167.9 L 1233.0,1164.3 L 1232.4,1160.7 L 1231.8,1157.0 L 1231.2,1153.4 L 1230.5,1149.8 L 1229.9,1146.1 L 1229.3,1142.5 L 1228.6,1138.9 L 1227.9,1135.3 L 1227.3,1131.6 L 1226.6,1128.0 L 1225.9,1124.4 L 1225.2,1120.8 L 1224.5,1117.2 L 1223.8,1113.5 L 1223.1,1109.9 L 1222.3,1106.3 L 1221.6,1102.7 L 1220.9,1099.1 L 1220.1,1095.5 L 1219.4,1091.9 L 1218.6,1088.3 L 1217.9,1084.6 L 1217.1,1081.0 L 1216.3,1077.4 L 1215.5,1073.8 L 1214.7,1070.2 L 1213.9,1066.6 L 1213.1,1063.0 L 1212.3,1059.4 L 1211.5,1055.8 L 1210.7,1052.2 L 1209.9,1048.6 L 1209.1,1045.0 L 1208.2,1041.4 L 1207.4,1037.8 L 1206.6,1034.2 L 1205.7,1030.6 L 1204.9,1027.0 L 1204.0,1023.5 L 1203.2,1019.9 L 1202.3,1016.3 L 1201.5,1012.7 L 1200.6,1009.1 L 1199.7,1005.5 L 1198.8,1001.9 L 1198.0,998.4 L 1197.1,994.8 L 1196.2,991.2 L 1195.3,987.6 L 1194.4,984.0 L 1193.5,980.5 L 1192.7,976.9 L 1191.8,973.3 L 1190.9,969.7 L 1190.0,966.2 L 1189.1,962.6 L 1188.2,959.0 L 1187.3,955.5 L 1186.4,951.9 L 1185.4,948.3 L 1184.5,944.8 L 1183.6,941.2 L 1182.7,937.6 L 1181.8,934.1 L 1180.9,930.5 L 1180.0,927.0 L 1179.1,923.4 L 1178.2,919.8 L 1177.2,916.3 L 1176.3,912.7 L 1175.4,909.2 L 1174.5,905.6 L 1173.6,902.1 L 1172.6,898.5 L 1171.7,895.0 L 1170.8,891.4 L 1169.8,887.9 L 1168.9,884.3 L 1168.0,880.8 L 1167.1,877.2 L 1166.1,873.7 L 1165.2,870.1 L 1164.3,866.6 L 1163.3,863.0 L 1162.4,859.5 L 1161.4,855.9 L 1160.5,852.4 L 1159.5,848.8 L 1158.6,845.3 L 1157.7,841.7 L 1156.7,838.2 L 1155.8,834.6 L 1154.8,831.1 L 1153.8,827.5 L 1152.9,824.0 L 1151.9,820.4 L 1151.0,816.9 L 1150.0,813.3 L 1149.0,809.8 L 1148.1,806.2 L 1147.1,802.7 L 1146.1,799.1 L 1145.1,795.6 L 1144.1,792.1 L 1143.1,788.5 L 1142.0,785.0 L 1141.0,781.5 L 1139.9,777.9 L 1138.8,774.4 L 1137.7,770.9 L 1136.6,767.4 L 1135.4,763.9 L 1134.2,760.5 L 1133.1,757.0 L 1131.8,753.5 L 1130.6,750.1 L 1129.3,746.6 L 1128.0,743.2 L 1126.6,739.8 L 1125.3,736.3 L 1123.9,732.9 L 1122.4,729.6 L 1121.0,726.2 L 1119.5,722.8 L 1117.9,719.5 L 1116.3,716.1 L 1114.8,712.8 L 1113.1,709.5 L 1111.5,706.2 L 1109.8,702.9 L 1108.1,699.7 L 1106.3,696.4 L 1104.5,693.2 L 1102.7,689.9 L 1100.9,686.7 L 1099.0,683.5 L 1097.1,680.4 L 1095.2,677.2 L 1093.3,674.1 L 1091.3,670.9 L 1089.3,667.8 L 1087.3,664.7 L 1085.2,661.7 L 1083.2,658.6 L 1081.1,655.6 L 1078.9,652.6 L 1076.8,649.6 L 1074.6,646.6 L 1072.4,643.6 L 1070.2,640.7 L 1068.0,637.7 L 1065.7,634.8 L 1063.4,631.9 L 1061.1,629.1 L 1058.8,626.3 L 1056.4,623.5 L 1054.0,620.7 L 1051.5,618.0 L 1049.0,615.3 L 1046.5,612.7 L 1043.9,610.1 L 1041.3,607.5 L 1038.7,605.0 L 1036.0,602.6 L 1033.3,600.2 L 1030.5,597.8 L 1027.6,595.6 L 1024.7,593.3 L 1021.8,591.2 L 1018.8,589.1 L 1015.7,587.0 L 1012.6,585.1 L 1009.5,583.2 L 1006.3,581.3 L 1003.0,579.5 L 999.8,577.8 L 996.4,576.1 L 993.1,574.5 L 989.7,572.9 L 986.3,571.4 L 982.8,570.0 L 979.4,568.5 L 975.9,567.1 L 972.4,565.8 L 968.9,564.5 L 965.3,563.2 L 961.8,562.0 L 958.3,560.8 L 954.7,559.6 L 951.2,558.5 L 947.6,557.4 L 944.1,556.4 L 940.5,555.3 L 937.0,554.3 L 933.4,553.4 L 929.9,552.5 L 926.3,551.7 L 922.8,550.9 L 919.2,550.2 L 915.6,549.6 L 912.0,549.0 L 908.4,548.5 L 904.8,548.1 L 901.1,547.8 L 897.5,547.6 L 893.8,547.4 L 890.1,547.3 L 886.4,547.4 L 882.7,547.4 L 879.0,547.4 L 875.4,547.3" fill="none" stroke="#000" stroke-width="3" stroke-linejoin="round"/>
<path d="M 694.4,914.2 C 690,940 682,975 678.8,1007.4 L 754,1007.4 C 751,975 743,940 737.3,914.2 Z" fill="#fff" stroke="#000" stroke-width="3" stroke-linejoin="round"/>
<path d="M 698.4,616 C 700,635 704.6,655 704.6,682.8 C 704.6,695 698,712 696.3,725.7 C 695.5,738 697.5,760 699.1,777.4 C 699.5,790 694,800 693.2,810 L 739,810 C 738,800 732.6,790 733.1,781.8 C 733,770 732,760 738.3,756.5 L 757.5,756.5 L 757.5,719 L 742.7,719 C 735,717 732,706 730.1,696 C 728,685 726,672 727.2,660 C 729,645 733,628 734.6,616 Z" fill="#fff" stroke="#000" stroke-width="3" stroke-linejoin="round"/>
<rect x="757.5" y="719" width="23.6" height="37.7" rx="0" fill="#fff" stroke="#000" stroke-width="3"/>
<ellipse cx="770.3" cy="728.8" rx="8.3" ry="5" fill="none" stroke="#000" stroke-width="2"/>
<ellipse cx="770.3" cy="746.2" rx="8.3" ry="5" fill="none" stroke="#000" stroke-width="2"/>
<path d="M 781.1,725.8 L 810.8,725.8 L 810.8,749.5 L 781.1,749.5 Z" fill="#fff" stroke="#000" stroke-width="3" stroke-linejoin="round"/>
<path d="M 688.6,812.6 L 692.6,808.6 L 740.4,808.6 L 744.3,812.6 L 744.3,833.6 L 688.6,833.6 Z" fill="#fff" stroke="#000" stroke-width="3" stroke-linejoin="round"/>
<g fill="#000"><rect x="700.2" y="810" width="3.6" height="23"/><rect x="727.6" y="810" width="3.6" height="23"/></g>
<g fill="none" stroke="#000" stroke-width="2.5"><rect x="690.8" y="811.6" width="10.4" height="20.6" rx="4.5" ry="5"/><rect x="702.6" y="811.6" width="26.2" height="20.6" rx="9" ry="5"/><rect x="730.4" y="811.6" width="11.8" height="20.6" rx="4.5" ry="5"/></g>
<rect x="690.5" y="834" width="52" height="4.4" rx="0" fill="#fff" stroke="#000" stroke-width="2.4"/>
<rect x="615" y="853.7" width="203" height="45.5" rx="0" fill="#fff" stroke="#000" stroke-width="3"/>
<circle cx="597" cy="876.5" r="50.3" fill="#fff" stroke="#000" stroke-width="3"/>
<circle cx="835.3" cy="876.5" r="50.3" fill="#fff" stroke="#000" stroke-width="3"/>
<rect x="615" y="853.7" width="203" height="45.5" fill="#fff" stroke="#000" stroke-width="3"/>
<path d="M 688.6,812.6 L 692.6,808.6 L 740.4,808.6 L 744.3,812.6 L 744.3,833.6 L 688.6,833.6 Z" fill="#fff" stroke="#000" stroke-width="3" stroke-linejoin="round"/>
<g fill="#000"><rect x="700.2" y="810" width="3.6" height="23"/><rect x="727.6" y="810" width="3.6" height="23"/></g>
<g fill="none" stroke="#000" stroke-width="2.5"><rect x="690.8" y="811.6" width="10.4" height="20.6" rx="4.5" ry="5"/><rect x="702.6" y="811.6" width="26.2" height="20.6" rx="9" ry="5"/><rect x="730.4" y="811.6" width="11.8" height="20.6" rx="4.5" ry="5"/></g>
<rect x="690.5" y="834" width="52" height="4.4" rx="0" fill="#fff" stroke="#000" stroke-width="2.4"/>
<path d="M 583.21,873.32 L 579.89,868.16 L 576.35,863.21 L 570.7,858.96 L 565.04,856.14 L 560.58,853.52 L 574.02,840.08 L 576.64,844.54 L 579.46,850.2 L 583.71,855.85 L 588.66,859.39 L 593.82,862.71 Z" fill="#000" stroke="#000" stroke-width="6" stroke-linejoin="round"/>
<circle cx="564.9" cy="844.4" r="10.2" fill="#000" stroke="#000" stroke-width="6"/>
<path d="M 600.18,862.71 L 605.34,859.39 L 610.29,855.85 L 614.54,850.2 L 617.36,844.54 L 619.98,840.08 L 633.42,853.52 L 628.96,856.14 L 623.3,858.96 L 617.65,863.21 L 614.11,868.16 L 610.79,873.32 Z" fill="#000" stroke="#000" stroke-width="6" stroke-linejoin="round"/>
<circle cx="629.1" cy="844.4" r="10.2" fill="#000" stroke="#000" stroke-width="6"/>
<path d="M 610.79,879.68 L 614.11,884.84 L 617.65,889.79 L 623.3,894.04 L 628.96,896.86 L 633.42,899.48 L 619.98,912.92 L 617.36,908.46 L 614.54,902.8 L 610.29,897.15 L 605.34,893.61 L 600.18,890.29 Z" fill="#000" stroke="#000" stroke-width="6" stroke-linejoin="round"/>
<circle cx="629.1" cy="908.6" r="10.2" fill="#000" stroke="#000" stroke-width="6"/>
<path d="M 593.82,890.29 L 588.66,893.61 L 583.71,897.15 L 579.46,902.8 L 576.64,908.46 L 574.02,912.92 L 560.58,899.48 L 565.04,896.86 L 570.7,894.04 L 576.35,889.79 L 579.89,884.84 L 583.21,879.68 Z" fill="#000" stroke="#000" stroke-width="6" stroke-linejoin="round"/>
<circle cx="564.9" cy="908.6" r="10.2" fill="#000" stroke="#000" stroke-width="6"/>
<path d="M 583.21,873.32 L 579.89,868.16 L 576.35,863.21 L 570.7,858.96 L 565.04,856.14 L 560.58,853.52 L 574.02,840.08 L 576.64,844.54 L 579.46,850.2 L 583.71,855.85 L 588.66,859.39 L 593.82,862.71 Z" fill="#fff"/>
<circle cx="564.9" cy="844.4" r="10.2" fill="#fff"/>
<path d="M 600.18,862.71 L 605.34,859.39 L 610.29,855.85 L 614.54,850.2 L 617.36,844.54 L 619.98,840.08 L 633.42,853.52 L 628.96,856.14 L 623.3,858.96 L 617.65,863.21 L 614.11,868.16 L 610.79,873.32 Z" fill="#fff"/>
<circle cx="629.1" cy="844.4" r="10.2" fill="#fff"/>
<path d="M 610.79,879.68 L 614.11,884.84 L 617.65,889.79 L 623.3,894.04 L 628.96,896.86 L 633.42,899.48 L 619.98,912.92 L 617.36,908.46 L 614.54,902.8 L 610.29,897.15 L 605.34,893.61 L 600.18,890.29 Z" fill="#fff"/>
<circle cx="629.1" cy="908.6" r="10.2" fill="#fff"/>
<path d="M 593.82,890.29 L 588.66,893.61 L 583.71,897.15 L 579.46,902.8 L 576.64,908.46 L 574.02,912.92 L 560.58,899.48 L 565.04,896.86 L 570.7,894.04 L 576.35,889.79 L 579.89,884.84 L 583.21,879.68 Z" fill="#fff"/>
<circle cx="564.9" cy="908.6" r="10.2" fill="#fff"/>
<path d="M 569,876.5 L 573.5,863.5 L 581,851.2 L 613,851.2 L 620,859.5 L 621.3,868.5 L 621.3,884.5 L 620,893.5 L 613,901.8 L 581,901.8 L 573.5,889.5 Z" fill="#000" stroke="#000" stroke-width="1" stroke-linejoin="round"/>
<circle cx="597" cy="876.5" r="19.8" fill="none" stroke="#fff" stroke-width="1.1" stroke-dasharray="9 3"/>
<circle cx="597" cy="876.5" r="12.3" fill="#fff"/>
<g fill="#000"><rect x="592" y="871.4" width="3.3" height="10.4"/><rect x="598.6" y="871.4" width="3.3" height="10.4"/><rect x="594" y="875.3" width="6" height="2.9"/></g>
<path d="M 821.51,873.32 L 818.19,868.16 L 814.65,863.21 L 809,858.96 L 803.34,856.14 L 798.88,853.52 L 812.32,840.08 L 814.94,844.54 L 817.76,850.2 L 822.01,855.85 L 826.96,859.39 L 832.12,862.71 Z" fill="#000" stroke="#000" stroke-width="6" stroke-linejoin="round"/>
<circle cx="803.2" cy="844.4" r="10.2" fill="#000" stroke="#000" stroke-width="6"/>
<path d="M 838.48,862.71 L 843.64,859.39 L 848.59,855.85 L 852.84,850.2 L 855.66,844.54 L 858.28,840.08 L 871.72,853.52 L 867.26,856.14 L 861.6,858.96 L 855.95,863.21 L 852.41,868.16 L 849.09,873.32 Z" fill="#000" stroke="#000" stroke-width="6" stroke-linejoin="round"/>
<circle cx="867.4" cy="844.4" r="10.2" fill="#000" stroke="#000" stroke-width="6"/>
<path d="M 849.09,879.68 L 852.41,884.84 L 855.95,889.79 L 861.6,894.04 L 867.26,896.86 L 871.72,899.48 L 858.28,912.92 L 855.66,908.46 L 852.84,902.8 L 848.59,897.15 L 843.64,893.61 L 838.48,890.29 Z" fill="#000" stroke="#000" stroke-width="6" stroke-linejoin="round"/>
<circle cx="867.4" cy="908.6" r="10.2" fill="#000" stroke="#000" stroke-width="6"/>
<path d="M 832.12,890.29 L 826.96,893.61 L 822.01,897.15 L 817.76,902.8 L 814.94,908.46 L 812.32,912.92 L 798.88,899.48 L 803.34,896.86 L 809,894.04 L 814.65,889.79 L 818.19,884.84 L 821.51,879.68 Z" fill="#000" stroke="#000" stroke-width="6" stroke-linejoin="round"/>
<circle cx="803.2" cy="908.6" r="10.2" fill="#000" stroke="#000" stroke-width="6"/>
<path d="M 821.51,873.32 L 818.19,868.16 L 814.65,863.21 L 809,858.96 L 803.34,856.14 L 798.88,853.52 L 812.32,840.08 L 814.94,844.54 L 817.76,850.2 L 822.01,855.85 L 826.96,859.39 L 832.12,862.71 Z" fill="#fff"/>
<circle cx="803.2" cy="844.4" r="10.2" fill="#fff"/>
<path d="M 838.48,862.71 L 843.64,859.39 L 848.59,855.85 L 852.84,850.2 L 855.66,844.54 L 858.28,840.08 L 871.72,853.52 L 867.26,856.14 L 861.6,858.96 L 855.95,863.21 L 852.41,868.16 L 849.09,873.32 Z" fill="#fff"/>
<circle cx="867.4" cy="844.4" r="10.2" fill="#fff"/>
<path d="M 849.09,879.68 L 852.41,884.84 L 855.95,889.79 L 861.6,894.04 L 867.26,896.86 L 871.72,899.48 L 858.28,912.92 L 855.66,908.46 L 852.84,902.8 L 848.59,897.15 L 843.64,893.61 L 838.48,890.29 Z" fill="#fff"/>
<circle cx="867.4" cy="908.6" r="10.2" fill="#fff"/>
<path d="M 832.12,890.29 L 826.96,893.61 L 822.01,897.15 L 817.76,902.8 L 814.94,908.46 L 812.32,912.92 L 798.88,899.48 L 803.34,896.86 L 809,894.04 L 814.65,889.79 L 818.19,884.84 L 821.51,879.68 Z" fill="#fff"/>
<circle cx="803.2" cy="908.6" r="10.2" fill="#fff"/>
<path d="M 863.3,876.5 L 858.8,863.5 L 851.3,851.2 L 819.3,851.2 L 812.3,859.5 L 811,868.5 L 811,884.5 L 812.3,893.5 L 819.3,901.8 L 851.3,901.8 L 858.8,889.5 Z" fill="#000" stroke="#000" stroke-width="1" stroke-linejoin="round"/>
<circle cx="835.3" cy="876.5" r="19.8" fill="none" stroke="#fff" stroke-width="1.1" stroke-dasharray="9 3"/>
<circle cx="835.3" cy="876.5" r="12.3" fill="#fff"/>
<path d="M 838.6,872.9 C 837.9,871.3 836.6,871 835.2,871 C 832.9,871 832.7,874 832.7,876.8 C 832.7,879.8 833.1,882.3 835.3,882.3 C 836.7,882.3 837.9,881.7 838.6,880.3" fill="none" stroke="#6a0a40" stroke-width="3.3"/>
<path d="M 702.71,873.32 L 699.39,868.16 L 695.85,863.21 L 690.2,858.96 L 684.54,856.14 L 680.08,853.52 L 693.52,840.08 L 696.14,844.54 L 698.96,850.2 L 703.21,855.85 L 708.16,859.39 L 713.32,862.71 Z" fill="#000" stroke="#000" stroke-width="6" stroke-linejoin="round"/>
<circle cx="684.4" cy="844.4" r="10.2" fill="#000" stroke="#000" stroke-width="6"/>
<path d="M 719.68,862.71 L 724.84,859.39 L 729.79,855.85 L 734.04,850.2 L 736.86,844.54 L 739.48,840.08 L 752.92,853.52 L 748.46,856.14 L 742.8,858.96 L 737.15,863.21 L 733.61,868.16 L 730.29,873.32 Z" fill="#000" stroke="#000" stroke-width="6" stroke-linejoin="round"/>
<circle cx="748.6" cy="844.4" r="10.2" fill="#000" stroke="#000" stroke-width="6"/>
<path d="M 730.29,879.68 L 733.61,884.84 L 737.15,889.79 L 742.8,894.04 L 748.46,896.86 L 752.92,899.48 L 739.48,912.92 L 736.86,908.46 L 734.04,902.8 L 729.79,897.15 L 724.84,893.61 L 719.68,890.29 Z" fill="#000" stroke="#000" stroke-width="6" stroke-linejoin="round"/>
<circle cx="748.6" cy="908.6" r="10.2" fill="#000" stroke="#000" stroke-width="6"/>
<path d="M 713.32,890.29 L 708.16,893.61 L 703.21,897.15 L 698.96,902.8 L 696.14,908.46 L 693.52,912.92 L 680.08,899.48 L 684.54,896.86 L 690.2,894.04 L 695.85,889.79 L 699.39,884.84 L 702.71,879.68 Z" fill="#000" stroke="#000" stroke-width="6" stroke-linejoin="round"/>
<circle cx="684.4" cy="908.6" r="10.2" fill="#000" stroke="#000" stroke-width="6"/>
<path d="M 702.71,873.32 L 699.39,868.16 L 695.85,863.21 L 690.2,858.96 L 684.54,856.14 L 680.08,853.52 L 693.52,840.08 L 696.14,844.54 L 698.96,850.2 L 703.21,855.85 L 708.16,859.39 L 713.32,862.71 Z" fill="#fff"/>
<circle cx="684.4" cy="844.4" r="10.2" fill="#fff"/>
<path d="M 719.68,862.71 L 724.84,859.39 L 729.79,855.85 L 734.04,850.2 L 736.86,844.54 L 739.48,840.08 L 752.92,853.52 L 748.46,856.14 L 742.8,858.96 L 737.15,863.21 L 733.61,868.16 L 730.29,873.32 Z" fill="#fff"/>
<circle cx="748.6" cy="844.4" r="10.2" fill="#fff"/>
<path d="M 730.29,879.68 L 733.61,884.84 L 737.15,889.79 L 742.8,894.04 L 748.46,896.86 L 752.92,899.48 L 739.48,912.92 L 736.86,908.46 L 734.04,902.8 L 729.79,897.15 L 724.84,893.61 L 719.68,890.29 Z" fill="#fff"/>
<circle cx="748.6" cy="908.6" r="10.2" fill="#fff"/>
<path d="M 713.32,890.29 L 708.16,893.61 L 703.21,897.15 L 698.96,902.8 L 696.14,908.46 L 693.52,912.92 L 680.08,899.48 L 684.54,896.86 L 690.2,894.04 L 695.85,889.79 L 699.39,884.84 L 702.71,879.68 Z" fill="#fff"/>
<circle cx="684.4" cy="908.6" r="10.2" fill="#fff"/>
<circle cx="716.5" cy="876.5" r="24.5" fill="#000"/>
<circle cx="716.5" cy="876.5" r="20.6" fill="none" stroke="#fff" stroke-width="1.1" stroke-dasharray="9 3"/>
<circle cx="716.5" cy="876.5" r="12.2" fill="#fff"/>
<path d="M 620.5,583 C 631,604 668,614.5 717.6,614.5 C 765,614.5 802,604 812,583" fill="none" stroke="#000" stroke-width="6.8" />
<path d="M 624.5,586 C 635,603 668,611.6 717.6,611.6 C 764,611.6 798,603 808.5,586" fill="none" stroke="#fff" stroke-width="0.9" stroke-dasharray="14 10"/>
<path d="M 615,545 L 574,545 Q 540,548 525,558 Q 512,568 505.7,585.7 L 574.8,598.6 Q 582,577 600,572.5 L 615,571.5 Z" fill="#fff" stroke="#000" stroke-width="3" stroke-linejoin="round"/>
<rect x="615" y="540.9" width="15" height="43.8" rx="0" fill="#fff" stroke="#000" stroke-width="3"/>
<rect x="617.8" y="550" width="10.5" height="32.7" rx="0" fill="none" stroke="#000" stroke-width="2"/>
<path d="M 630,541.6 C 642,541 652,542 662.7,544.6 L 662.7,571.6 C 652,573 642,574 630,573.6 Z" fill="#fff" stroke="#000" stroke-width="3" stroke-linejoin="round"/>
<rect x="662.7" y="544.4" width="11.1" height="27.2" rx="0" fill="#fff" stroke="#000" stroke-width="3"/>
<path d="M 673.8,544.6 C 677,538 685,534 697,533.7 L 814.3,542.9 L 801.2,574.9 L 697,582.7 C 685,582.5 677,577 673.8,571.4 Z" fill="#fff" stroke="#000" stroke-width="3" stroke-linejoin="round"/>
<path d="M 801.9,549 L 814,548.4 L 816,584 L 801.2,584.2 Z" fill="#fff" stroke="#000" stroke-width="3" stroke-linejoin="round"/>
<rect x="815.6" y="539.6" width="5.2" height="35.3" rx="0" fill="#fff" stroke="#000" stroke-width="2.6"/>
<rect x="820.8" y="544.2" width="6.6" height="28.7" rx="0" fill="#fff" stroke="#000" stroke-width="2.6"/>
<path d="M 827.4,537 L 874.4,543.5 L 874.4,572.3 L 827.4,580.1 Z" fill="#fff" stroke="#000" stroke-width="3" stroke-linejoin="round"/>
<path d="M 1428.4,959 L 1428.4,1562 C 1428.8,1569 1434,1573 1439.5,1573 C 1445,1573 1450.3,1568 1450.3,1562 L 1450.3,968" fill="none" stroke="#000" stroke-width="3" />
<path d="M 1416.6,914.7 L 1416.6,929 C 1417,940 1418.5,948 1422,952.5 C 1426,957.5 1436,963 1450.7,967.8 L 1533,986 C 1543,988.5 1550,991.5 1552.2,996.5 C 1553.4,999.5 1553.7,1004 1553.7,1007.2 L 1591.5,1007.2 C 1590.5,985 1578,968 1553,962.5 L 1481.2,940.7 C 1473,937.5 1467,929 1464.2,920.3 L 1462.2,914.7 Z" fill="#fff" stroke="#000" stroke-width="3" stroke-linejoin="round"/>
<path d="M 1413.4,900 L 1416.6,914.7 L 1462.2,914.7 C 1462.2,909 1464,905 1466.3,901.5 Z" fill="#fff" stroke="#000" stroke-width="3" stroke-linejoin="round"/>
<path d="M 1421.6,617.5 C 1424,635 1429.5,655 1429,673.5 C 1428.5,692 1420,708 1419.8,723.4 C 1419.6,740 1424,755 1423.5,769.6 C 1423,785 1418,797 1417,809 L 1463.2,809 C 1462,797 1456,785 1455.8,769.6 C 1455.5,755 1459.8,740 1459.5,723.4 C 1459.2,708 1451,692 1451.2,673.5 C 1451.4,655 1456,635 1457.7,617.5 Z" fill="#fff" stroke="#000" stroke-width="3" stroke-linejoin="round"/>
<rect x="1415.8" y="808.4" width="48.2" height="26.9" rx="2" fill="#fff" stroke="#000" stroke-width="3"/>
<line x1="1415.8" y1="810.8" x2="1464" y2="810.8" stroke="#000" stroke-width="4"/>
<rect x="1418" y="812.6" width="20.2" height="20.6" rx="5" ry="4" fill="none" stroke="#000" stroke-width="2.6"/>
<rect x="1440.7" y="812.6" width="21.3" height="20.6" rx="5" ry="4" fill="none" stroke="#000" stroke-width="2.6"/>
<rect x="1417" y="835.3" width="45.5" height="3.2" rx="0" fill="#fff" stroke="#000" stroke-width="2.2"/>
<path d="M 1419.4,838.5 L 1413.7,852.3 L 1467.5,851.5 C 1464,848 1462,843 1461.9,838.5 Z" fill="#fff" stroke="#000" stroke-width="3" stroke-linejoin="round"/>
<path d="M 1366.2,825.4 L 1386.8,849.5 L 1386.8,903.4 L 1366.2,926.7 Z" fill="#fff" stroke="#000" stroke-width="3" stroke-linejoin="round"/>
<rect x="1355.5" y="825.4" width="10.7" height="101.3" rx="0" fill="#fff" stroke="#000" stroke-width="3.6"/>
<rect x="1386.8" y="852.3" width="24.1" height="47.5" rx="0" fill="#fff" stroke="#000" stroke-width="3"/>
<path d="M 1389.5,855 L 1408.5,855 C 1410,862 1410,870 1408.5,875.7 L 1389.5,875.7 C 1388,870 1388,862 1389.5,855 Z" fill="none" stroke="#000" stroke-width="2.2" />
<path d="M 1389.5,875.7 L 1408.5,875.7 C 1410,882 1410,890 1408.5,897 L 1389.5,897 C 1388,890 1388,882 1389.5,875.7 Z" fill="none" stroke="#000" stroke-width="2.2" />
<path d="M 1410.9,852.3 C 1430,849.5 1450,849.5 1469,852.3 L 1469,899.1 C 1450,902.5 1430,902.5 1410.9,899.1 Z" fill="#fff" stroke="#000" stroke-width="3" stroke-linejoin="round"/>
<line x1="1471.9" y1="852.5" x2="1471.9" y2="899" stroke="#000" stroke-width="2.4"/>
<path d="M 1469,852.3 L 1507.9,856.6 L 1507.9,894.9 L 1469,899.1 Z" fill="#fff" stroke="#000" stroke-width="3" stroke-linejoin="round"/>
<line x1="1471.9" y1="852.6" x2="1471.9" y2="898.8" stroke="#000" stroke-width="2.2"/>
<rect x="1506.3" y="856.3" width="11" height="39.3" rx="0" fill="#fff" stroke="#000" stroke-width="3"/>
<line x1="1507" y1="866.3" x2="1517" y2="866.3" stroke="#000" stroke-width="2.6"/>
<line x1="1507" y1="887.4" x2="1517" y2="887.4" stroke="#000" stroke-width="2.6"/>
<rect x="1517.3" y="858" width="23.3" height="36.5" rx="0" fill="#fff" stroke="#000" stroke-width="3"/>
<circle cx="1536" cy="846" r="11" fill="#fff" stroke="#000" stroke-width="4"/>
<circle cx="1536" cy="906.6" r="11" fill="#fff" stroke="#000" stroke-width="4"/>
<g fill="#000"><circle cx="1529.3" cy="844.7" r="12.5"/><ellipse cx="1529.6" cy="864" rx="10.9" ry="7.8"/><rect x="1522" y="850" width="14.6" height="12"/></g>
<g fill="#fff"><circle cx="1529.3" cy="844.7" r="8.5"/><ellipse cx="1529.6" cy="864" rx="7.9" ry="4.8"/><rect x="1525.9" y="850" width="7" height="12"/></g>
<g fill="#000"><circle cx="1529.3" cy="907.9" r="12.5"/><ellipse cx="1529.6" cy="888.6" rx="10.9" ry="7.8"/><rect x="1522" y="891" width="14.6" height="12"/></g>
<g fill="#fff"><circle cx="1529.3" cy="907.9" r="8.5"/><ellipse cx="1529.6" cy="888.6" rx="7.9" ry="4.8"/><rect x="1525.9" y="891" width="7" height="12"/></g>
<path d="M 1541.5,857.8 L 1551,857.8 C 1555.5,864 1557.5,870 1557.5,876.2 C 1557.5,882.5 1555.5,888.5 1551,894.6 L 1541.5,894.6 Z" fill="#000" stroke="#000" stroke-width="1.5"/>
<line x1="1546.8" y1="861" x2="1546.8" y2="892" stroke="#fff" stroke-width="1" stroke-dasharray="6 2"/>
<line x1="1542.3" y1="861" x2="1542.3" y2="892" stroke="#fff" stroke-width="0.9"/>
<path d="M 1406.6,595 C 1407,585 1411,573 1415,562 C 1414.5,545 1425,533.5 1439.6,533.5 C 1454,533.5 1465,545 1464.6,562 C 1469,573 1473.5,585 1474,595 Z" fill="#fff" stroke="#000" stroke-width="3" stroke-linejoin="round"/>
<line x1="1419" y1="548.7" x2="1459.7" y2="548.7" stroke="#000" stroke-width="2.2"/>
<path d="M 1415.5,563 C 1421,555 1429,545 1439.4,544 C 1450,545 1458,553 1463.6,561" fill="none" stroke="#000" stroke-width="5.2"/>
<ellipse cx="1441" cy="592.5" rx="31" ry="6.2" fill="#000"/>
<path d="M 1423.3,598.5 C 1428,602 1430.5,605 1430.1,609.4 C 1429,611 1424,612 1419.6,612.5 L 1459.1,612.5 C 1455,612 1450,611 1448.6,609.4 C 1448.3,605 1450,602 1454.1,598.5 Z" fill="#fff" stroke="#000" stroke-width="3" stroke-linejoin="round"/>
<rect x="1419.6" y="612.5" width="39.5" height="5.1" rx="0" fill="#fff" stroke="#000" stroke-width="3"/>
</svg>
</body></html>
